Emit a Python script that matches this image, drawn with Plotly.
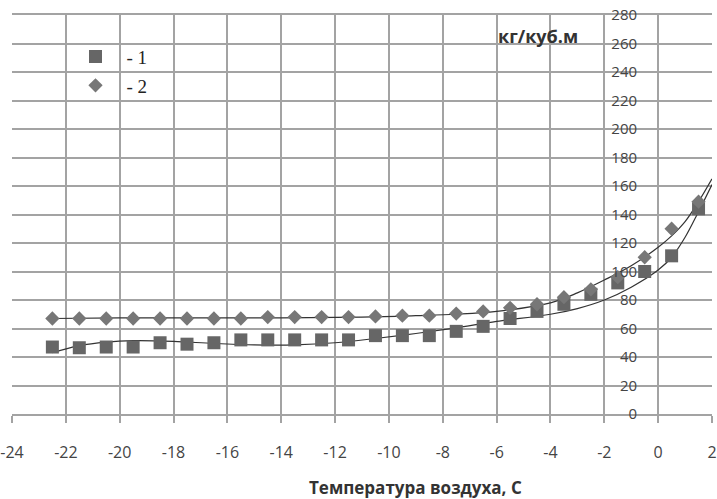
import plotly.graph_objects as go

# Data
temp = [-22.5, -21.5, -20.5, -19.5, -18.5, -17.5, -16.5, -15.5, -14.5, -13.5,
        -12.5, -11.5, -10.5, -9.5, -8.5, -7.5, -6.5, -5.5, -4.5, -3.5,
        -2.5, -1.5, -0.5, 0.5, 1.5]
series1 = [47, 46.5, 47, 47, 50, 49, 50, 52, 52, 52,
           52, 52, 55, 55, 55, 58, 61.5, 67, 72, 77,
           84, 92, 100, 111, 144]
series2 = [67, 67, 67, 67, 67, 67, 67, 67, 68, 68,
           68, 68, 68.5, 69, 69, 70.5, 72, 74.5, 77, 82,
           87.5, 96, 110, 130, 149]

# Trend curves
trend1_x = [-22.5, -21.5, -20.5, -19.5, -18, -16.5, -15, -13.5, -12, -10.5,
            -9, -7.5, -6, -4, -3, -2, -1, 0, 0.5, 1, 1.5, 2]
trend1_y = [43, 48, 50.5, 51.5, 51, 49.5, 48.5, 48.5, 50, 53,
            56.5, 60.5, 65, 70, 74, 80, 89, 101, 110, 124, 142, 161]
trend2_x = [-22.5, -20, -17, -14, -11, -9, -7.5, -6, -4, -3, -2, -1, 0, 0.5, 1, 1.5, 2]
trend2_y = [67, 67.5, 67.5, 67.5, 68, 69, 70, 72, 78, 85, 94, 104, 117, 125, 135, 149, 165]

x_ticks = list(range(-24, 3, 2))
x_ticktext = [str(v) for v in x_ticks]
y_ticks = list(range(0, 281, 20))
name1 = "- 1"
name2 = "- 2"
y_unit = "кг/куб.м"
x_title = "Температура воздуха, С"

grid = "#a3a3a3"
fig = go.Figure()
fig.add_trace(go.Scatter(x=trend1_x, y=trend1_y, mode="lines",
                         line=dict(color="#333333", width=1.2, shape="spline", smoothing=1),
                         showlegend=False, hoverinfo="skip", cliponaxis=True))
fig.add_trace(go.Scatter(x=trend2_x, y=trend2_y, mode="lines",
                         line=dict(color="#333333", width=1.2, shape="spline", smoothing=1),
                         showlegend=False, hoverinfo="skip", cliponaxis=True))
fig.add_trace(go.Scatter(x=temp, y=series1, mode="markers", name=name1, legendgroup="a",
                         marker=dict(symbol="square", size=13, color="#666666")))
fig.add_trace(go.Scatter(x=temp, y=series2, mode="markers", name=name2, legendgroup="b",
                         marker=dict(symbol="diamond", size=11, color="#777777")))

fig.update_layout(
    width=717, height=499,
    margin=dict(l=12, r=5, t=15, b=85, autoexpand=False),
    paper_bgcolor="white", plot_bgcolor="white",
    showlegend=True,
    legend=dict(x=0.075, y=0.943, xanchor="left", yanchor="top",
                bgcolor="rgba(0,0,0,0)", itemwidth=52, tracegroupgap=1,
                font=dict(family="Liberation Serif", size=19, color="#222222")),
    xaxis=dict(range=[-24, 2], tickmode="array", tickvals=x_ticks, ticktext=x_ticktext,
               automargin=False,
               showgrid=True, gridcolor=grid, gridwidth=1.5, zeroline=False,
               showline=True, linecolor=grid, linewidth=1.5, mirror=True,
               ticks="outside", ticklen=7, tickcolor=grid, tickwidth=1.5,
               ticklabelstandoff=16, ticklabeloverflow="allow",
               tickfont=dict(family="Open Sans", size=16, color="#444444")),
    yaxis=dict(range=[0, 280], tickmode="array", tickvals=y_ticks, automargin=False,
               showgrid=True, gridcolor=grid, gridwidth=1.5, zeroline=False,
               showline=False, anchor="free", position=0.893, side="left",
               ticks="", ticklabelstandoff=0,
               tickfont=dict(family="Open Sans", size=15, color="#444444")),
    annotations=[
        dict(text="<b>" + y_unit + "</b>", x=538, y=36, xref="paper", yref="paper",
             showarrow=False, font=dict(family="Open Sans", size=18, color="#333333")),
        dict(text="<b>" + x_title + "</b>", x=415, y=488, xref="paper", yref="paper",
             showarrow=False, font=dict(family="Open Sans", size=17, color="#333333")),
    ],
)
# convert pixel-placed annotations to paper coords
pw, ph = 717 - 12 - 5, 499 - 15 - 85
for a in fig.layout.annotations:
    a.x = (a.x - 12) / pw
    a.y = (499 - 85 - a.y) / ph
    a.yanchor = "middle"
    a.xanchor = "center"

fig.write_html("out.html")
